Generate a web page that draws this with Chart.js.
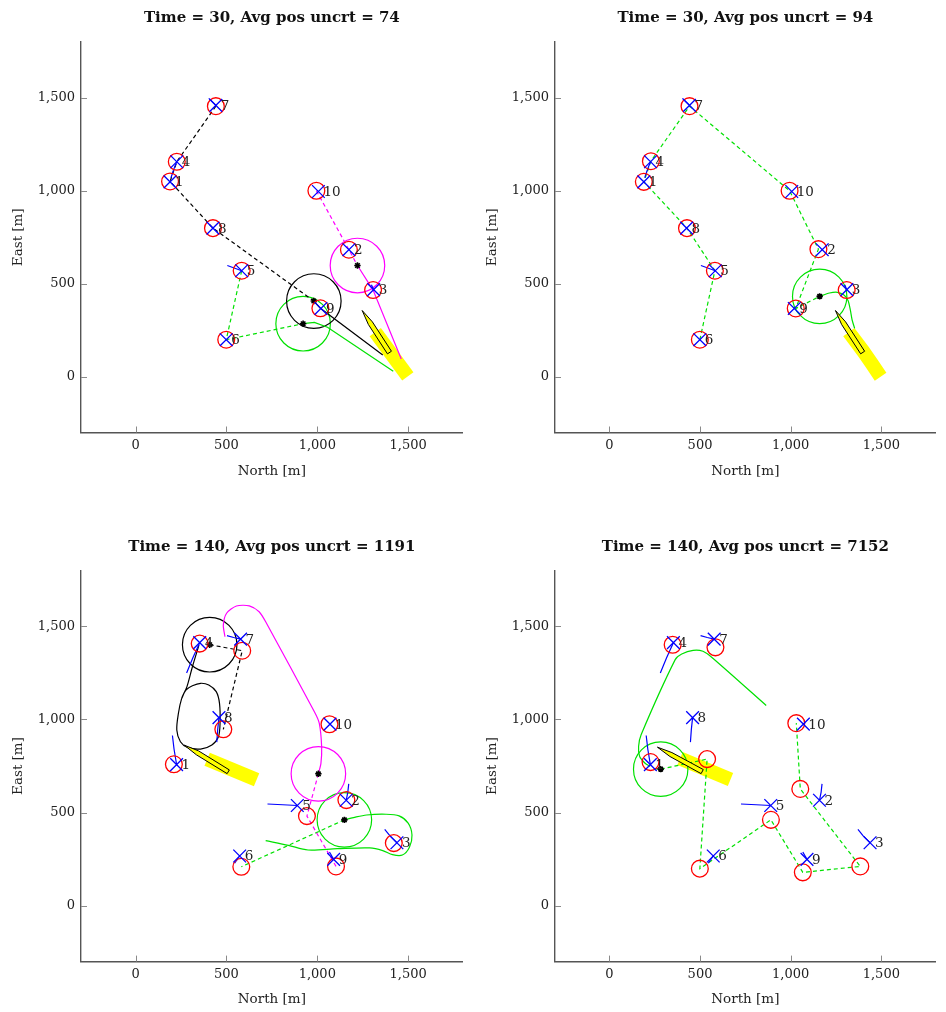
<!DOCTYPE html>
<html>
<head>
<meta charset="utf-8">
<script src="https://cdn.jsdelivr.net/npm/chart.js@4.4.1/dist/chart.umd.min.js"></script>
<style>
  html, body { margin: 0; padding: 0; background: #fff; }
  #wrap { position: relative; width: 946px; height: 1012px; overflow: hidden; }
  .panel { position: absolute; width: 473px; height: 506px; }
  canvas { display: block; }
</style>
</head>
<body>
<div id="wrap">
  <div class="panel" style="left:0;top:0"><canvas id="c1" width="473" height="506"></canvas></div>
  <div class="panel" style="left:473px;top:0"><canvas id="c2" width="473" height="506"></canvas></div>
  <div class="panel" style="left:0;top:506px"><canvas id="c3" width="473" height="506"></canvas></div>
  <div class="panel" style="left:473px;top:506px"><canvas id="c4" width="473" height="506"></canvas></div>
</div>
<script>
// ---------- data (metres) ----------
const landmarkNames = ['1', '2', '3', '4', '5', '6', '7', '8', '9', '10'];
const tickValues = [0, 500, 1000, 1500];
const axisMin = -300;
const axisMax = 1800;

const titles = [
  'Time = 30, Avg pos uncrt = 74',
  'Time = 30, Avg pos uncrt = 94',
  'Time = 140, Avg pos uncrt = 1191',
  'Time = 140, Avg pos uncrt = 7152'
];

// t = 30: true landmark positions and the two filters' estimates
const landmarksTrue30 = [[190,1048],[1174,683],[1310,468],[227,1156],[584,570],[499,199],[442,1459],[426,799],[1020,367],[1006,996]];
const landmarksEst30A = [[190,1050],[1174,683],[1307,466],[227,1156],[584,570],[499,199],[442,1455],[426,799],[1017,368],[995,1000]];
const landmarksEst30B = [[190,1048],[1153,686],[1309,466],[229,1159],[582,570],[499,199],[442,1455],[428,799],[1028,367],[994,1000]];
const landmarkTracks30 = [
  [[195,1070],[212,1120],[227,1156]],
  [[403,1497],[442,1459]],
  [[505,598],[584,570]],
  [[1298,494],[1310,468]]
];

// t = 140
const landmarksTrue140 = [[226,757],[1159,566],[1438,338],[353,1412],[890,538],[573,267],[578,1431],[459,1010],[1090,249],[1070,975]];
const landmarksEst140A = [[211,759],[1160,567],[1421,336],[353,1407],[943,481],[582,209],[587,1369],[483,947],[1103,211],[1067,974]];
const landmarksEst140B = [[227,771],[1053,627],[1384,211],[349,1401],[891,461],[499,199],[585,1387],[539,787],[1067,179],[1031,980]];
const landmarkTracks140 = [
  [[203,914],[212,840],[226,757]],
  [[1173,654],[1168,610],[1159,566]],
  [[1371,410],[1400,375],[1438,338]],
  [[281,1249],[315,1330],[353,1412]],
  [[726,546],[810,542],[890,538]],
  [[545,228],[573,267]],
  [[503,1450],[540,1440],[578,1431]],
  [[447,878],[452,945],[459,1010]],
  [[1067,288],[1090,249]]
];

// ship track (swath) and hull outline
const shipWake30A = [[1319,240],[1498,2]];
const shipWake30B = [[1321,240],[1402,134],[1446,72],[1496,0]];
const shipWake140A = [[394,786],[666,676]];
const shipWake140B = [[390,790],[668,678]];
const shipHull30 = [[1247,356],[1303,295],[1408,137],[1386,123],[1281,281],[1247,356]];
const shipHull140A = [[268,862],[347,831],[516,729],[504,709],[335,810],[268,862]];
const shipHull140B = [[265,851],[345,822],[518,731],[506,709],[334,801],[265,851]];

// vehicles: planned route (dashed), travelled path (solid), position and uncertainty radius
const blackPlan30 = [[442,1455],[227,1156],[190,1050],[426,799],[981,407]];
const blackPath30 = [[981,407],[1017,368],[1360,117]];
const blackPos30 = [981, 407];
const magentaPlan30 = [[995,1000],[1174,683],[1221,598]];
const magentaPath30 = [[1221,598],[1307,466],[1462,95]];
const magentaPos30 = [1221, 598];
const greenPlan30A = [[584,570],[499,199],[922,285]];
const greenPath30A = [[922,285],[984,292],[1056,266],[1418,30]];
const greenPos30A = [922, 285];

const greenPlan30B = [[499,199],[582,570],[428,799],[190,1048],[229,1159],[442,1455],[994,1000],[1153,686],[1028,367],[1160,432]];
const greenPath30B = [[1160,432],[1214,450],[1258,454],[1294,439],[1317,409],[1329,359],[1339,305],[1353,260]];
const greenPos30B = [1160, 432];

const blackPlan140 = [[408,1401],[587,1369],[483,947]];
const blackPath140 = [[349,1399],[313,1283],[283,1176],[254,1113],[236,1033],[227,943],[247,880],[286,850],[358,841],[420,863],[456,907],[465,979],[462,1086],[444,1149],[403,1185],[358,1194],[313,1181],[277,1158],[254,1113]];
const blackPos140 = [408, 1401];
const magentaPlan140 = [[1006,708],[943,481],[1103,211]];
const magentaPath140 = [[492,1444],[483,1507],[501,1570],[555,1609],[626,1610],[680,1578],[716,1524],[984,1041],[1011,979],[1024,853],[1020,764],[1006,708]];
const magentaPos140 = [1006, 708];
const greenPlan140A = [[1149,461],[582,209]];
const greenPath140A = [[716,349],[841,324],[949,299],[1110,306],[1289,310],[1360,296],[1414,274],[1468,272],[1507,314],[1521,380],[1500,443],[1450,482],[1378,491],[1271,487],[1199,473],[1149,461]];
const greenPos140A = [1149, 461];

const greenPlan140B = [[245,735],[283,733],[539,787],[499,199],[891,461],[1067,179],[1384,211],[1053,627],[1031,980]];
const greenPath140B = [[865,1075],[569,1330],[516,1366],[462,1371],[399,1351],[363,1321],[175,918],[161,855],[167,801],[197,765],[225,748]];
const greenPos140B = [283, 733];

const uncertaintyRadius = 150;

// ---------- styling ----------
const C_BLACK = '#000000';
const C_MAGENTA = '#ff00ff';
const C_GREEN = 'rgb(0,225,0)';
const C_BLUE = '#0000ff';
const C_RED = '#ff0000';
const C_YELLOW = '#ffff00';
const FONT = 'DejaVu Serif';

const pts = arr => arr.map(([x, y]) => ({ x, y }));

function vehicle(color, plan, path, pos, tension) {
  return { color, plan, path, pos, tension: tension || 0 };
}

const panels = [
  {
    id: 'c1', title: titles[0], truth: landmarksTrue30, est: landmarksEst30A, tracks: landmarkTracks30,
    wake: shipWake30A, hull: shipHull30,
    vehicles: [
      vehicle(C_BLACK, blackPlan30, blackPath30, blackPos30),
      vehicle(C_MAGENTA, magentaPlan30, magentaPath30, magentaPos30),
      vehicle(C_GREEN, greenPlan30A, greenPath30A, greenPos30A)
    ],
    box: { padTop: 42, padRight: 1, yAxisW: 81, xAxisH: 73.5, titleY: 18, xTitleY: 471 }
  },
  {
    id: 'c2', title: titles[1], truth: landmarksTrue30, est: landmarksEst30B, tracks: landmarkTracks30,
    wake: shipWake30B, hull: shipHull30,
    vehicles: [
      vehicle(C_GREEN, greenPlan30B, greenPath30B, greenPos30B, 0.25)
    ],
    box: { padTop: 42, padRight: 0, yAxisW: 82, xAxisH: 73.5, titleY: 18, xTitleY: 471 }
  },
  {
    id: 'c3', title: titles[2], truth: landmarksTrue140, est: landmarksEst140A, tracks: landmarkTracks140,
    wake: shipWake140A, hull: shipHull140A,
    vehicles: [
      vehicle(C_BLACK, blackPlan140, blackPath140, blackPos140, 0.3),
      vehicle(C_MAGENTA, magentaPlan140, magentaPath140, magentaPos140, 0.25),
      vehicle(C_GREEN, greenPlan140A, greenPath140A, greenPos140A, 0.3)
    ],
    box: { padTop: 64.4, padRight: 1, yAxisW: 81, xAxisH: 50.4, titleY: 41.3, xTitleY: 493 }
  },
  {
    id: 'c4', title: titles[3], truth: landmarksTrue140, est: landmarksEst140B, tracks: landmarkTracks140,
    wake: shipWake140B, hull: shipHull140B,
    vehicles: [
      vehicle(C_GREEN, greenPlan140B, greenPath140B, greenPos140B, 0.25)
    ],
    box: { padTop: 64.4, padRight: 0, yAxisW: 82, xAxisH: 50.4, titleY: 41.3, xTitleY: 493 }
  }
];

// ---------- decorations: inward ticks, titles, landmark numbers ----------
const decor = {
  id: 'decor',
  afterDraw(chart, args, opts) {
    const { ctx, chartArea: a, scales: { x, y } } = chart;
    const p = opts.panel;
    ctx.save();
    // inward tick marks
    ctx.strokeStyle = '#8a8a8a';
    ctx.lineWidth = 1;
    ctx.beginPath();
    tickValues.forEach(v => {
      const px = Math.round(x.getPixelForValue(v)) + 0.5;
      ctx.moveTo(px, a.bottom);
      ctx.lineTo(px, a.bottom - 6);
      const py = Math.round(y.getPixelForValue(v)) + 0.5;
      ctx.moveTo(a.left, py);
      ctx.lineTo(a.left + 6, py);
    });
    ctx.stroke();

    // landmark numbers beside the true positions
    ctx.fillStyle = '#222';
    ctx.font = '13.5px "' + FONT + '"';
    ctx.textAlign = 'left';
    ctx.textBaseline = 'middle';
    p.truth.forEach(([lx, ly], i) => {
      ctx.fillText(landmarkNames[i], x.getPixelForValue(lx) + 5, y.getPixelForValue(ly) + 1);
    });

    // panel title
    ctx.font = 'bold 15px "' + FONT + '"';
    ctx.textAlign = 'center';
    ctx.fillStyle = '#111';
    ctx.fillText(p.title, (a.left + a.right) / 2, p.box.titleY);

    // axis titles
    ctx.font = '13.5px "' + FONT + '"';
    ctx.fillStyle = '#222';
    ctx.fillText('North [m]', (a.left + a.right) / 2, p.box.xTitleY);
    ctx.translate(a.left - 63, (a.top + a.bottom) / 2);
    ctx.rotate(-Math.PI / 2);
    ctx.fillText('East [m]', 0, 0);
    ctx.restore();
  }
};

function lineSet(points, color, extra) {
  return Object.assign({
    data: pts(points), borderColor: color, backgroundColor: 'transparent',
    borderWidth: 1.2, pointRadius: 0, fill: false, tension: 0, showLine: true
  }, extra);
}

function markerSet(points, color, style, radius, extra) {
  return Object.assign({
    data: pts(points), showLine: false, pointStyle: style, pointRadius: radius,
    pointBorderColor: color, pointBackgroundColor: 'transparent', pointBorderWidth: 1.3,
    borderColor: color, backgroundColor: 'transparent'
  }, extra);
}

function buildPanel(p) {
  const ds = [];
  // swath behind everything
  ds.push(lineSet(p.wake, C_YELLOW, { borderWidth: 14, borderCapStyle: 'butt', borderJoinStyle: 'round', order: 100 }));
  // uncertainty rings, radius converted through the x scale
  p.vehicles.forEach(v => {
    ds.push(markerSet([v.pos], v.color, 'circle', 0, {
      order: 60,
      pointBorderWidth: 1.2,
      pointRadius: ctx => {
        const xs = ctx.chart.scales.x;
        return Math.abs(xs.getPixelForValue(uncertaintyRadius) - xs.getPixelForValue(0));
      }
    }));
    ds.push(lineSet(v.plan, v.color, { borderDash: [4, 3], order: 50 }));
    ds.push(lineSet(v.path, v.color, { tension: v.tension, order: 45 }));
    ds.push(markerSet([v.pos], C_BLACK, 'star', 3.2, { pointBorderWidth: 1.6, order: 20 }));
  });
  // ship hull
  ds.push(lineSet(p.hull, C_BLACK, { borderWidth: 1, backgroundColor: C_YELLOW, fill: 'shape', order: 40 }));
  // landmark history tracks
  p.tracks.forEach(t => ds.push(lineSet(t, C_BLUE, { order: 30 })));
  // estimates (red circles) and true positions (blue crosses)
  ds.push(markerSet(p.est, C_RED, 'circle', 8.4, { order: 15 }));
  ds.push(markerSet(p.truth, C_BLUE, 'crossRot', 9, { order: 10 }));

  const axisCommon = {
    type: 'linear', min: axisMin, max: axisMax,
    afterBuildTicks: s => { s.ticks = tickValues.map(v => ({ value: v })); },
    grid: { display: false, drawTicks: false },
    border: { display: true, color: '#555', width: 1.4 },
    ticks: {
      color: '#222', font: { family: FONT, size: 13 }, autoSkip: false, maxRotation: 0,
      callback: v => Number(v).toLocaleString('en-US')
    }
  };

  new Chart(document.getElementById(p.id), {
    type: 'line',
    data: { datasets: ds },
    options: {
      responsive: false, animation: false, devicePixelRatio: 1, events: [],
      layout: { padding: { top: p.box.padTop, right: p.box.padRight, left: 0, bottom: 0 } },
      plugins: {
        legend: { display: false }, tooltip: { enabled: false }, title: { display: false },
        decor: { panel: p }
      },
      scales: {
        x: Object.assign({}, axisCommon, {
          position: 'bottom',
          afterFit: s => { s.height = p.box.xAxisH; },
          ticks: Object.assign({}, axisCommon.ticks, { padding: 5 })
        }),
        y: Object.assign({}, axisCommon, {
          position: 'left',
          afterFit: s => { s.width = p.box.yAxisW; },
          ticks: Object.assign({}, axisCommon.ticks, { padding: 6 })
        })
      }
    },
    plugins: [decor]
  });
}

panels.forEach(buildPanel);
</script>
</body>
</html>
